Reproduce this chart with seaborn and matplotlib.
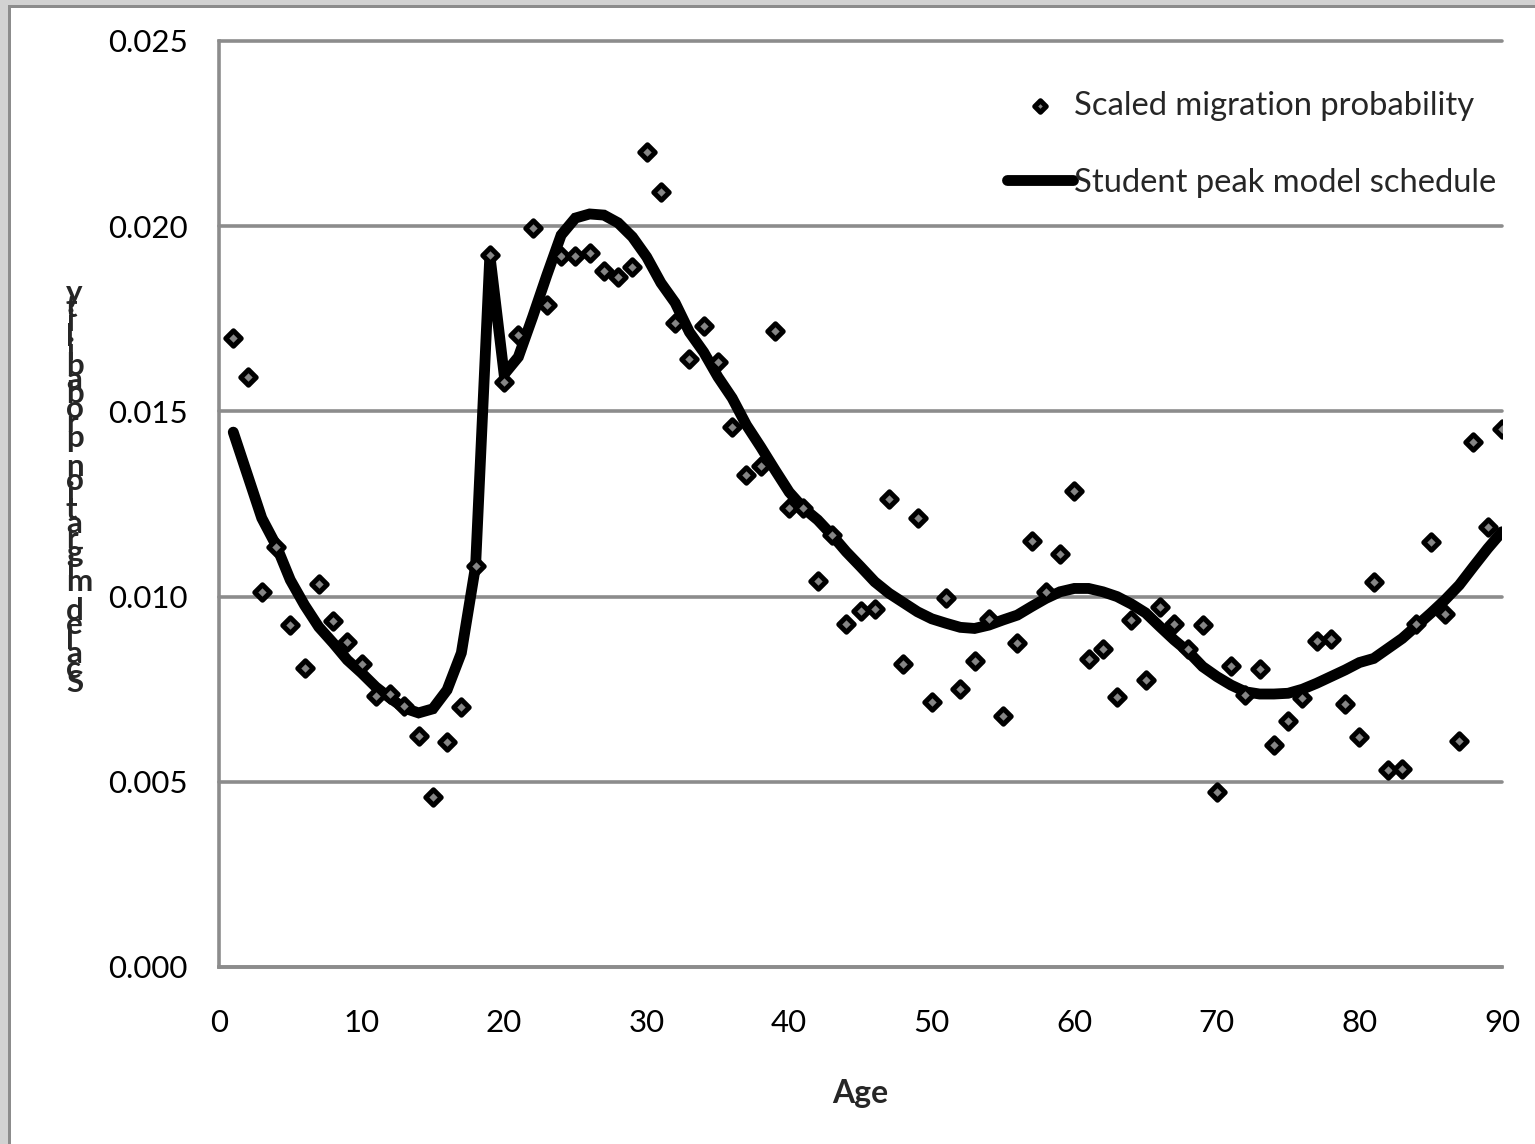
import numpy as np
import pandas as pd
import matplotlib
matplotlib.use("Agg")
import matplotlib.pyplot as plt
from matplotlib.patches import Rectangle
from matplotlib.ticker import FormatStrFormatter
import seaborn as sns

# Age-specific migration: observed (scaled) probabilities and fitted schedule
ages = list(range(1, 91))

scaled_probability = [
    0.01699, 0.01594, 0.01013, 0.01135, 0.00922, 0.00806, 0.01033, 0.00934, 0.00877, 0.00818,
    0.00732, 0.00736, 0.00705, 0.00624, 0.00460, 0.00607, 0.00701, 0.01083, 0.01922, 0.01579,
    0.01706, 0.01994, 0.01787, 0.01920, 0.01920, 0.01927, 0.01880, 0.01862, 0.01891, 0.02201,
    0.02093, 0.01738, 0.01641, 0.01731, 0.01634, 0.01457, 0.01328, 0.01353, 0.01718, 0.01239,
    0.01239, 0.01042, 0.01166, 0.00926, 0.00961, 0.00967, 0.01263, 0.00817, 0.01213, 0.00716,
    0.00995, 0.00751, 0.00827, 0.00939, 0.00678, 0.00874, 0.01150, 0.01012, 0.01114, 0.01286,
    0.00832, 0.00859, 0.00730, 0.00937, 0.00775, 0.00973, 0.00926, 0.00858, 0.00922, 0.00473,
    0.00813, 0.00734, 0.00804, 0.00599, 0.00664, 0.00725, 0.00880, 0.00886, 0.00710, 0.00620,
    0.01040, 0.00532, 0.00534, 0.00925, 0.01147, 0.00952, 0.00611, 0.01418, 0.01187, 0.01452,
]

model_schedule = [
    0.01444, 0.01328, 0.01212, 0.01139, 0.01045, 0.00977, 0.00918, 0.00875, 0.00829, 0.00794,
    0.00756, 0.00726, 0.00699, 0.00686, 0.00697, 0.00748, 0.00848, 0.01083, 0.01922, 0.01600,
    0.01647, 0.01755, 0.01868, 0.01976, 0.02022, 0.02033, 0.02030, 0.02009, 0.01971, 0.01917,
    0.01847, 0.01793, 0.01714, 0.01660, 0.01593, 0.01536, 0.01463, 0.01404, 0.01342, 0.01282,
    0.01239, 0.01207, 0.01166, 0.01121, 0.01081, 0.01040, 0.01009, 0.00984, 0.00959, 0.00940,
    0.00928, 0.00917, 0.00914, 0.00923, 0.00937, 0.00950, 0.00973, 0.00995, 0.01013, 0.01022,
    0.01022, 0.01013, 0.01000, 0.00980, 0.00956, 0.00919, 0.00883, 0.00851, 0.00811, 0.00784,
    0.00761, 0.00743, 0.00737, 0.00737, 0.00739, 0.00750, 0.00766, 0.00784, 0.00802, 0.00822,
    0.00833, 0.00860, 0.00887, 0.00921, 0.00955, 0.00991, 0.01031, 0.01081, 0.01130, 0.01175,
]

series_labels = ["Scaled migration probability", "Student peak model schedule"]
x_title = "Age"
y_title = "Scaled migration probability"
x_ticks = list(range(0, 91, 10))
y_ticks = [0.000, 0.005, 0.010, 0.015, 0.020, 0.025]

df = pd.DataFrame({"age": ages, "observed": scaled_probability, "model": model_schedule})

sns.set_style("white")
plt.rcParams["font.family"] = ["Lato", "DejaVu Sans"]

W, H = 1535, 1144
fig = plt.figure(figsize=(W / 100, H / 100), dpi=100)
fig.patch.set_facecolor("white")

# plot area in pixel terms
left, right, bottom, top = 219, 1502, 967, 41
ax = fig.add_axes([left / W, 1 - bottom / H, (right - left) / W, (bottom - top) / H])
ax.set_facecolor("white")

grid_col = "#8c8c8c"

sns.lineplot(data=df, x="age", y="model", ax=ax, color="black", linewidth=7.8,
             solid_capstyle="round", solid_joinstyle="miter", zorder=3,
             label=series_labels[1])
sns.scatterplot(data=df, x="age", y="observed", ax=ax, marker="D", s=62,
                color="#858585", edgecolor="black", linewidth=3.6, zorder=4,
                label=series_labels[0])

ax.set_xlim(0, 90)
ax.set_ylim(0, 0.025)
ax.set_xticks(x_ticks)
ax.set_yticks(y_ticks)
ax.yaxis.set_major_formatter(FormatStrFormatter("%.3f"))

ax.grid(axis="y", color=grid_col, linewidth=2.6)
ax.grid(axis="x", visible=False)
for gl in ax.get_ygridlines():
    gl.set_clip_on(False)
ax.set_axisbelow(True)

for side in ["top", "right"]:
    ax.spines[side].set_visible(False)
for side in ["left", "bottom"]:
    ax.spines[side].set_color(grid_col)
    ax.spines[side].set_linewidth(2.6)

ax.tick_params(axis="both", direction="out", length=8.6, width=2.6, color=grid_col,
               labelsize=22.5, labelcolor="black")
ax.tick_params(axis="y", pad=14)
ax.tick_params(axis="x", pad=22)

ax.set_xlabel(x_title, fontsize=23, fontweight="bold", labelpad=30)
ax.set_ylabel("")

# vertical stacked axis title, one character per row
stacked = "\n".join(reversed(y_title))
fig.text(66 / W, 1 - 697 / H, stacked, ha="left", va="bottom", multialignment="left",
         fontsize=22.5, fontweight="bold", linespacing=0.41)

handles, labels = ax.get_legend_handles_labels()
order = [labels.index(series_labels[0]), labels.index(series_labels[1])]
ax.legend([handles[i] for i in order], [labels[i] for i in order],
          loc="upper left", bbox_to_anchor=(1007 / W, 1 - 91 / H),
          bbox_transform=fig.transFigure, frameon=False, fontsize=23.6,
          handlelength=2.0, handletextpad=0.03, labelspacing=1.42,
          borderpad=0, borderaxespad=0, markerscale=0.75)

# outer chart frame
fig.patches.append(Rectangle((0, 1 - 5 / H), 1, 5 / H, transform=fig.transFigure,
                             facecolor="#d2d2d2", edgecolor="none", zorder=0))
fig.patches.append(Rectangle((0, 0), 8 / W, 1, transform=fig.transFigure,
                             facecolor="#d2d2d2", edgecolor="none", zorder=0))
fig.patches.append(Rectangle((8 / W, 1 - 8 / H), 1, 3 / H, transform=fig.transFigure,
                             facecolor="#8c8c8c", edgecolor="none", zorder=1))
fig.patches.append(Rectangle((8 / W, 0), 3 / W, 1 - 5 / H, transform=fig.transFigure,
                             facecolor="#8c8c8c", edgecolor="none", zorder=1))

fig.savefig("out.png", dpi=100, facecolor="white")
